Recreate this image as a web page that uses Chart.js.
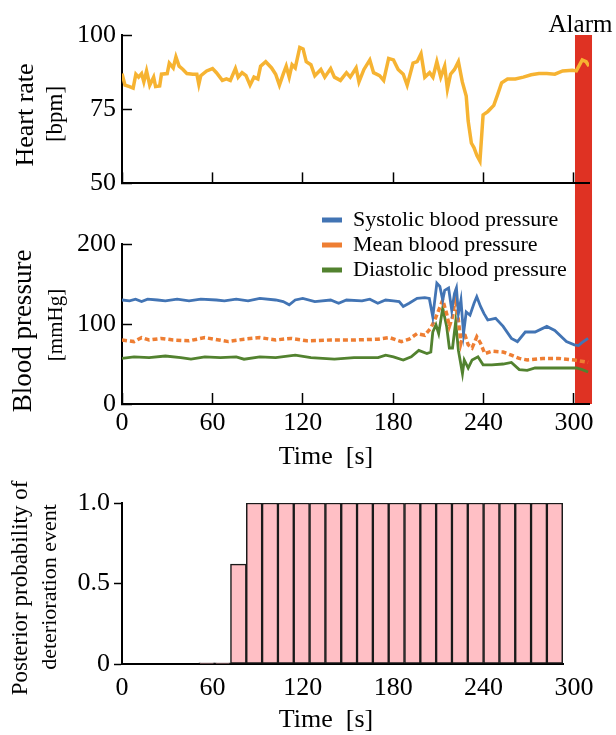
<!DOCTYPE html>
<html>
<head>
<meta charset="utf-8">
<script src="https://cdn.jsdelivr.net/npm/chart.js@4.4.1/dist/chart.umd.min.js"></script>
<style>
  html, body { margin: 0; padding: 0; background: #fff; }
  #wrap { position: relative; width: 616px; height: 735px; overflow: hidden; }
  #wrap canvas { position: absolute; left: 0; }
</style>
</head>
<body>
<div id="wrap">
  <canvas id="hrChart" width="616" height="215" style="top:0px"></canvas>
  <canvas id="bpChart" width="616" height="275" style="top:195px"></canvas>
  <canvas id="probChart" width="616" height="265" style="top:470px"></canvas>
</div>
<script>
// ---- data ----
const X_TICKS = [0, 60, 120, 180, 240, 300];
const ALARM = [300.7, 312];

const HR_T = [0, 2, 5, 7.4, 9.2, 11, 13, 14.5, 16.3, 18.4,
  21, 22.3, 25, 26.2, 30, 31.4, 34, 35.8, 37.9, 40.5,
  43.1, 47, 49.7, 51, 52.3, 56.2, 60.1, 62.7, 66.6, 69.3,
  71.9, 75.3, 77.1, 79.7, 82.3, 85, 87.6, 90.2, 92, 95.4,
  99.3, 102, 104.5, 107, 109, 111, 112.9, 115, 118, 120.2,
  122.3, 125.4, 128, 132, 134.6, 138.5, 141, 145, 149, 151.5,
  155.4, 157.3, 160.6, 164.5, 167, 171, 173.7, 177, 180.2, 183.3,
  186.7, 189.3, 193.2, 195.9, 198.5, 201, 204.2, 206.4, 209, 211.6,
  214.2, 216, 218.1, 220.7, 223.3, 225.9, 228.5, 229.8, 231.9, 233.7,
  235.6, 237.6, 239.7, 242.8, 246.8, 249.4, 252, 255.9, 261.1, 266.4,
  271.6, 276.8, 282, 287.3, 292.5, 299, 301.6, 305.5, 308.1, 310];
const HR_V = [87.0, 83.1, 82.6, 82.1, 86.8, 85.8, 87.0, 84.2, 87.9, 83.1,
  85.8, 82.6, 82.8, 86.8, 87.0, 90.5, 88.9, 92.6, 89.5, 88.4,
  87.0, 86.8, 86.8, 83.4, 86.3, 87.9, 88.7, 87.3, 84.7, 85.2,
  84.7, 88.7, 85.8, 87.3, 86.3, 83.1, 85.8, 85.2, 89.5, 91.0,
  88.9, 86.8, 83.1, 86.8, 89.5, 85.8, 90.0, 88.9, 95.8, 95.3,
  91.0, 90.0, 86.3, 88.4, 85.8, 88.7, 85.8, 84.7, 87.3, 85.8,
  88.9, 84.2, 88.4, 91.6, 87.3, 86.3, 84.7, 92.1, 91.6, 88.4,
  86.8, 83.1, 90.5, 91.0, 93.7, 85.8, 87.3, 85.8, 91.0, 85.8,
  89.5, 81.8, 86.8, 88.4, 91.0, 84.2, 79.4, 71.0, 63.6, 62.0,
  59.4, 57.5, 73.1, 74.2, 76.3, 80.0, 83.9, 85.2, 85.2, 85.8,
  86.6, 87.0, 87.0, 86.8, 87.9, 88.1, 87.9, 91.6, 91.0, 89.5];

const SYS_T = [0, 5, 9, 13, 17, 23.6, 28.8, 36.6, 44.5, 52.3,
  62.7, 68, 75.8, 83.7, 91.5, 102, 107, 111, 115, 120,
  128, 138.5, 143.8, 149, 159.3, 164.5, 169.8, 175, 180.2, 184,
  186.7, 190.6, 195.9, 201, 204, 206.3, 209, 211, 212.9, 214.2,
  216.8, 218.9, 220.7, 222, 223.3, 225, 226.7, 228.5, 231, 233.7,
  235.5, 238, 240.3, 242.8, 248, 253, 258.5, 262.5, 267.7, 274.2,
  282, 287.3, 295, 300.3, 303, 305.5, 309.4];
const SYS_V = [130, 129, 131, 128, 131, 130, 129, 131, 129, 131,
  130, 129, 131, 129, 132, 130, 128, 124, 130, 132,
  128, 130, 126, 130, 129, 131, 126, 130, 129, 128,
  122, 126, 132, 133, 132, 109, 151, 147, 130, 142,
  145, 117, 138, 145, 113, 130, 88, 115, 111, 126,
  134, 122, 113, 105, 107, 97, 82, 78, 90, 90,
  97, 92, 78, 74, 73, 77, 82];

const MEAN_T = [0, 8, 13, 18, 26, 34, 44.5, 55, 61.5, 70.6,
  81, 91.5, 102, 112, 122.7, 138.5, 154, 170, 177.6, 185.5,
  190.6, 195.9, 201, 205, 207.6, 210.2, 212.9, 215.5, 217.3, 219.4,
  221.2, 223.3, 225, 227, 229.8, 232.4, 235.5, 238, 240.8, 245.5,
  253, 258.5, 263.7, 269, 279.4, 290, 300.3, 309.4];
const MEAN_V = [80, 78, 83, 80, 82, 80, 79, 83, 81, 78,
  81, 83, 80, 82, 79, 80, 80, 81, 83, 78,
  81, 88, 86, 95, 105, 117, 130, 113, 97, 109,
  132, 105, 76, 90, 74, 70, 84, 76, 63, 66,
  65, 61, 57, 55, 57, 57, 55, 52];

const DIA_T = [0, 8, 18, 28.8, 39, 45.8, 55, 65.3, 75.8, 81,
  91.5, 102, 115, 125.4, 141, 154, 170, 175, 180.2, 186.7,
  192, 197, 202.4, 205, 206.3, 208.4, 210.2, 212.9, 215.5, 217.3,
  219.4, 221.5, 223.3, 226, 227.2, 229.8, 232.4, 236.3, 239.7, 245.5,
  253, 258.5, 263.7, 269, 274.2, 284.6, 295, 301.6, 305.5, 309.4];
const DIA_V = [57, 59, 58, 60, 58, 56, 59, 58, 59, 56,
  59, 58, 61, 58, 56, 58, 58, 61, 59, 55,
  59, 67, 63, 65, 90, 99, 88, 120, 97, 70,
  70, 103, 67, 38, 55, 45, 55, 59, 49, 49,
  50, 52, 43, 42, 45, 45, 45, 45, 43, 40];

// posterior probability per time window (window centres)
const PROB_T = [56.25, 66.75, 77.25, 87.75, 98.25, 108.75, 119.25, 129.75, 140.25, 150.75,
  161.25, 171.75, 182.25, 192.75, 203.25, 213.75, 224.25, 234.75, 245.25, 255.75,
  266.25, 276.75, 287.25];
const PROB_V = [0.008, 0.008, 0.62, 1, 1, 1, 1, 1, 1, 1,
  1, 1, 1, 1, 1, 1, 1, 1, 1, 1,
  1, 1, 1];

// ---- style ----
const FONT = "'Liberation Serif', 'Times New Roman', serif";
const RED = '#DF3223';
Chart.defaults.font.family = FONT;
Chart.defaults.color = '#000';

function pts(ts, vs) { return ts.map((t, i) => ({ x: t, y: vs[i] })); }

// red alarm band, drawn under everything else
const alarmPlugin = {
  id: 'alarm',
  beforeDraw(chart, args, opts) {
    const x = chart.scales.x, area = chart.chartArea, ctx = chart.ctx;
    const l = x.getPixelForValue(ALARM[0]), r = x.getPixelForValue(ALARM[1]);
    const top = opts.fromArea ? area.top : 0;
    const bottom = opts.toArea ? area.bottom : chart.height;
    ctx.save();
    ctx.fillStyle = RED;
    ctx.fillRect(l, top, r - l, bottom - top);
    if (opts.label) {
      ctx.fillStyle = '#000';
      ctx.font = `25px ${FONT}`;
      ctx.textAlign = 'center';
      ctx.textBaseline = 'alphabetic';
      ctx.fillText(opts.label, (l + r) / 2 - 3, top - 3);
    }
    ctx.restore();
  }
};

// axis captions: the original uses a different size per line and an off-centre x title
const captionPlugin = {
  id: 'captions',
  afterDraw(chart, args, opts) {
    const ctx = chart.ctx;
    (opts.items || []).forEach(it => {
      ctx.save();
      ctx.font = `${it.size}px ${FONT}`;
      ctx.fillStyle = '#000';
      ctx.textAlign = 'center';
      ctx.textBaseline = 'middle';
      ctx.translate(it.x, it.y);
      if (it.rot) ctx.rotate(-Math.PI / 2);
      ctx.fillText(it.text, 0, 0);
      ctx.restore();
    });
  }
};

// move the legend block to where the original has it
const legendPlace = {
  id: 'legendPlace',
  afterLayout(chart, args, opts) {
    const lg = chart.legend;
    if (!lg) return;
    const w = lg.width, h = lg.height;
    lg.left = opts.x; lg.right = opts.x + w;
    lg.top = opts.y; lg.bottom = opts.y + h;
  }
};

const AXIS_BORDER = { display: true, color: '#000', width: 2 };

function timeScale(extra) {
  return Object.assign({
    type: 'linear', min: 0, max: 310,
    border: AXIS_BORDER,
    grid: { drawOnChartArea: false, tickLength: -11, tickColor: '#000', tickWidth: 1.5 },
    ticks: { stepSize: 60, includeBounds: false, padding: 15, font: { size: 26 }, maxRotation: 0 }
  }, extra);
}

// ---- heart rate ----
new Chart(document.getElementById('hrChart'), {
  type: 'line',
  data: {
    datasets: [{
      label: 'Heart rate',
      data: pts(HR_T, HR_V),
      borderColor: '#F6B332',
      borderWidth: 3.5,
      pointRadius: 0,
      tension: 0
    }]
  },
  options: {
    responsive: false,
    animation: false,
    layout: { padding: { left: 0, right: 27, top: 35, bottom: 0 } },
    plugins: {
      legend: { display: false },
      tooltip: { enabled: false },
      alarm: { fromArea: true, toArea: false, label: 'Alarm' },
      captions: {
        items: [
          { text: 'Heart rate', x: 26, y: 115, size: 26, rot: true },
          { text: '[bpm]', x: 56, y: 114, size: 23, rot: true }
        ]
      }
    },
    scales: {
      x: timeScale({
        ticks: { display: false, stepSize: 60, includeBounds: false },
        afterFit: (s) => { s.height = 22; }
      }),
      y: {
        min: 50, max: 100,
        border: AXIS_BORDER,
        grid: { drawOnChartArea: false, tickLength: -10, tickColor: '#000', tickWidth: 1.5 },
        ticks: { stepSize: 25, padding: 16, font: { size: 26 } },
        afterFit: (s) => { s.width = 122; }
      }
    }
  },
  plugins: [alarmPlugin, captionPlugin]
});

// ---- blood pressure ----
new Chart(document.getElementById('bpChart'), {
  type: 'line',
  data: {
    datasets: [
      { label: 'Systolic blood pressure', data: pts(SYS_T, SYS_V), borderColor: '#4274B4', backgroundColor: '#4274B4', borderWidth: 2.8, pointRadius: 0, tension: 0 },
      { label: 'Mean blood pressure', data: pts(MEAN_T, MEAN_V), borderColor: '#EE7E33', backgroundColor: '#EE7E33', borderWidth: 3.5, borderDash: [5, 3], pointRadius: 0, tension: 0 },
      { label: 'Diastolic blood pressure', data: pts(DIA_T, DIA_V), borderColor: '#52822F', backgroundColor: '#52822F', borderWidth: 2.8, pointRadius: 0, tension: 0 }
    ]
  },
  options: {
    responsive: false,
    animation: false,
    layout: { padding: { left: 0, right: 27, top: 49, bottom: 0 } },
    plugins: {
      legend: {
        position: 'chartArea',
        align: 'start',
        labels: {
          usePointStyle: true, pointStyle: 'line', pointStyleWidth: 20,
          font: { size: 22 }, padding: 3, color: '#000',
          generateLabels: (chart) => Chart.defaults.plugins.legend.labels.generateLabels(chart)
            .map(item => Object.assign(item, { lineWidth: 5 }))
        }
      },
      tooltip: { enabled: false },
      alarm: { fromArea: false, toArea: true },
      legendPlace: { x: 319, y: 11 },
      captions: {
        items: [
          { text: 'Blood pressure', x: 24, y: 136, size: 27, rot: true },
          { text: '[mmHg]', x: 56, y: 130, size: 21, rot: true },
          { text: 'Time  [s]', x: 326, y: 262, size: 26 }
        ]
      }
    },
    scales: {
      x: timeScale({ afterFit: (s) => { s.height = 66; } }),
      y: {
        min: 0, max: 200,
        border: AXIS_BORDER,
        grid: { drawOnChartArea: false, tickLength: -10, tickColor: '#000', tickWidth: 1.5 },
        ticks: { stepSize: 100, padding: 16, font: { size: 26 } },
        afterFit: (s) => { s.width = 122; }
      }
    }
  },
  plugins: [alarmPlugin, legendPlace, captionPlugin]
});

// ---- posterior probability ----
new Chart(document.getElementById('probChart'), {
  type: 'bar',
  data: {
    datasets: [{
      label: 'Posterior probability',
      data: pts(PROB_T, PROB_V),
      backgroundColor: '#FFBFC5',
      borderColor: '#1a1a1a',
      borderWidth: 1.5,
      borderSkipped: false,
      barPercentage: 1,
      categoryPercentage: 1
    }]
  },
  options: {
    responsive: false,
    animation: false,
    layout: { padding: { left: 0, right: 53, top: 33, bottom: 0 } },
    plugins: {
      legend: { display: false },
      tooltip: { enabled: false },
      captions: {
        items: [
          { text: 'Posterior probability of', x: 21, y: 118, size: 23, rot: true },
          { text: 'deterioration event', x: 50, y: 117, size: 22, rot: true },
          { text: 'Time  [s]', x: 326, y: 250, size: 26 }
        ]
      }
    },
    scales: {
      x: {
        type: 'linear', min: 0, max: 292.7, offset: false,
        border: AXIS_BORDER,
        grid: { drawOnChartArea: false, drawTicks: false },
        ticks: { padding: 9, font: { size: 26 }, maxRotation: 0, autoSkip: false },
        afterBuildTicks: (s) => { s.ticks = X_TICKS.map(v => ({ value: v })); },
        afterFit: (s) => { s.height = 71; }
      },
      y: {
        min: 0, max: 1,
        border: AXIS_BORDER,
        grid: { drawOnChartArea: false, tickLength: 8, tickColor: '#000', tickWidth: 1.5 },
        ticks: { stepSize: 0.5, padding: 4, font: { size: 26 }, callback: (v) => (v === 0 ? '0' : v.toFixed(1)) },
        afterFit: (s) => { s.width = 122; }
      }
    }
  },
  plugins: [captionPlugin]
});
</script>
</body>
</html>
